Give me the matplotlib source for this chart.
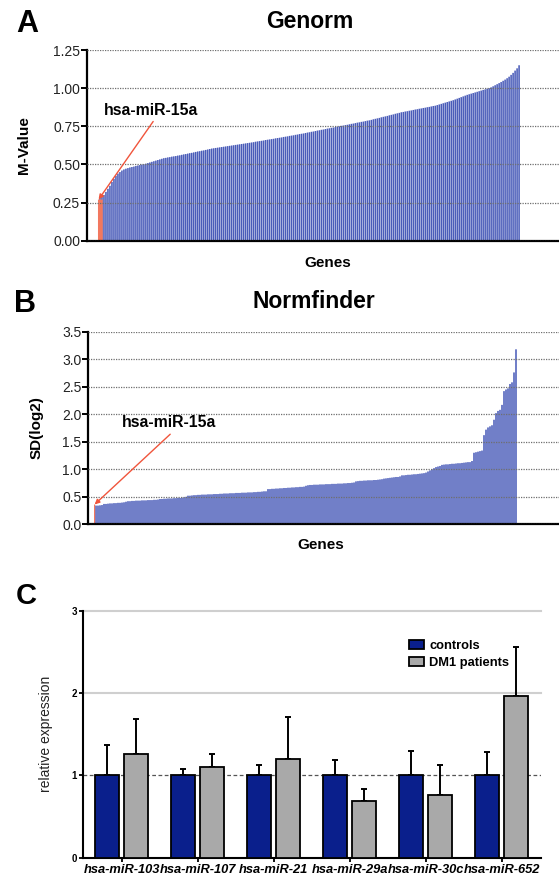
import matplotlib
matplotlib.use("Agg")
import matplotlib.pyplot as plt
import numpy as np

plt.rcParams["font.family"] = ["Liberation Sans", "DejaVu Sans"]

# ---- data -------------------------------------------------------------
highlight_gene = "hsa-miR-15a"

# panel A: geNorm M-values, genes ranked (first = hsa-miR-15a)
genorm_m = [
    0.27, 0.28, 0.29, 0.30, 0.32, 0.34, 0.36, 0.385, 0.405, 0.425,
    0.44, 0.45, 0.46, 0.467, 0.472, 0.476, 0.48, 0.483, 0.486, 0.49,
    0.493, 0.496, 0.499, 0.502, 0.505, 0.509, 0.513, 0.517, 0.521, 0.525,
    0.529, 0.533, 0.537, 0.541, 0.543, 0.546, 0.548, 0.551, 0.553, 0.555,
    0.558, 0.56, 0.563, 0.566, 0.568, 0.571, 0.574, 0.576, 0.579, 0.582,
    0.585, 0.587, 0.59, 0.592, 0.595, 0.598, 0.601, 0.604, 0.606, 0.608,
    0.61, 0.612, 0.614, 0.616, 0.618, 0.62, 0.622, 0.624, 0.626, 0.628,
    0.63, 0.632, 0.634, 0.636, 0.638, 0.64, 0.642, 0.644, 0.646, 0.649,
    0.651, 0.653, 0.655, 0.657, 0.66, 0.662, 0.664, 0.666, 0.668, 0.671,
    0.673, 0.675, 0.677, 0.68, 0.682, 0.684, 0.687, 0.689, 0.691, 0.694,
    0.696, 0.699, 0.701, 0.703, 0.706, 0.709, 0.711, 0.714, 0.716, 0.719,
    0.722, 0.724, 0.727, 0.729, 0.732, 0.735, 0.737, 0.74, 0.742, 0.745,
    0.748, 0.75, 0.753, 0.755, 0.758, 0.76, 0.763, 0.766, 0.768, 0.771,
    0.774, 0.776, 0.779, 0.781, 0.784, 0.787, 0.789, 0.792, 0.796, 0.799,
    0.802, 0.805, 0.809, 0.812, 0.815, 0.818, 0.822, 0.825, 0.828, 0.832,
    0.835, 0.838, 0.842, 0.844, 0.847, 0.849, 0.852, 0.854, 0.857, 0.86,
    0.862, 0.865, 0.867, 0.87, 0.872, 0.875, 0.877, 0.88, 0.883, 0.885,
    0.889, 0.893, 0.897, 0.901, 0.905, 0.909, 0.913, 0.917, 0.921, 0.926,
    0.931, 0.936, 0.941, 0.946, 0.951, 0.956, 0.96, 0.964, 0.968, 0.972,
    0.976, 0.98, 0.984, 0.988, 0.992, 0.996, 1.0, 1.005, 1.012, 1.019,
    1.026, 1.033, 1.04, 1.048, 1.056, 1.065, 1.075, 1.087, 1.1, 1.115,
    1.13, 1.15,
]

# panel B: NormFinder SD(log2), genes ranked (first = hsa-miR-15a)
normfinder_sd = [
    0.36, 0.34, 0.34, 0.345, 0.35, 0.37, 0.37, 0.375, 0.38, 0.38,
    0.385, 0.385, 0.39, 0.39, 0.395, 0.40, 0.41, 0.42, 0.42, 0.425,
    0.425, 0.43, 0.43, 0.43, 0.435, 0.435, 0.435, 0.44, 0.44, 0.44,
    0.445, 0.445, 0.45, 0.46, 0.46, 0.465, 0.465, 0.47, 0.47, 0.47,
    0.475, 0.475, 0.48, 0.48, 0.485, 0.49, 0.50, 0.52, 0.52, 0.525,
    0.53, 0.53, 0.535, 0.535, 0.54, 0.54, 0.54, 0.545, 0.545, 0.545,
    0.55, 0.55, 0.55, 0.555, 0.555, 0.56, 0.56, 0.56, 0.565, 0.565,
    0.565, 0.57, 0.57, 0.57, 0.575, 0.575, 0.575, 0.58, 0.58, 0.58,
    0.585, 0.585, 0.59, 0.59, 0.595, 0.60, 0.60, 0.64, 0.64, 0.645,
    0.645, 0.65, 0.65, 0.655, 0.655, 0.66, 0.66, 0.665, 0.665, 0.67,
    0.67, 0.675, 0.675, 0.68, 0.68, 0.685, 0.70, 0.71, 0.715, 0.715,
    0.72, 0.72, 0.72, 0.725, 0.725, 0.725, 0.73, 0.73, 0.73, 0.735,
    0.735, 0.735, 0.74, 0.74, 0.74, 0.745, 0.745, 0.75, 0.75, 0.755,
    0.76, 0.78, 0.785, 0.79, 0.79, 0.795, 0.795, 0.80, 0.80, 0.80,
    0.805, 0.805, 0.81, 0.815, 0.82, 0.83, 0.835, 0.84, 0.845, 0.85,
    0.855, 0.86, 0.86, 0.87, 0.89, 0.89, 0.895, 0.90, 0.90, 0.905,
    0.91, 0.91, 0.915, 0.92, 0.925, 0.93, 0.94, 0.96, 0.98, 1.0,
    1.02, 1.04, 1.05, 1.06, 1.08, 1.085, 1.09, 1.09, 1.095, 1.10,
    1.10, 1.105, 1.11, 1.11, 1.115, 1.12, 1.125, 1.13, 1.13, 1.15,
    1.30, 1.31, 1.32, 1.33, 1.34, 1.62, 1.72, 1.76, 1.78, 1.80,
    1.90, 2.02, 2.06, 2.08, 2.17, 2.42, 2.45, 2.47, 2.55, 2.58,
    2.76, 3.18,
]

genorm_ticks = [0.00, 0.25, 0.50, 0.75, 1.00, 1.25]
normfinder_ticks = [0.0, 0.5, 1.0, 1.5, 2.0, 2.5, 3.0, 3.5]

# panel C: relative expression
mirnas = ["hsa-miR-103", "hsa-miR-107", "hsa-miR-21",
          "hsa-miR-29a", "hsa-miR-30c", "hsa-miR-652"]
controls_mean = [1.00, 1.00, 1.00, 1.00, 1.00, 1.00]
controls_err = [0.37, 0.08, 0.12, 0.19, 0.30, 0.28]
dm1_mean = [1.26, 1.10, 1.20, 0.69, 0.76, 1.97]
dm1_err = [0.42, 0.16, 0.51, 0.15, 0.36, 0.59]
expr_ticks = [0, 1, 2, 3]

BAR_BLUE = "#4a5cb9"
HIGHLIGHT = "#f2785f"
ARROW_RED = "#f0553c"


def draw_ranking(ax, values, ticks, fmt, ylabel, xleft, xright,
                 hl_width, text_xy, ylab_x, xlab_xy):
    x = np.arange(len(values))
    # snap off so the ~2 px wide bars blend evenly instead of aliasing
    ax.bar(x[1:], values[1:], width=0.78, color=BAR_BLUE,
           edgecolor="none", linewidth=0, snap=False)
    ax.bar(x[0], values[0], width=hl_width, align="edge", color=HIGHLIGHT,
           edgecolor="none", snap=False)
    ax.set_xlim(xleft, len(values) + xright)
    ax.set_ylim(ticks[0], ticks[-1])
    ax.set_yticks(ticks)
    ax.set_yticklabels([fmt.format(t) for t in ticks], fontsize=10,
                       color="#222222")
    ax.set_xticks([])
    ax.yaxis.grid(True, linestyle=(0, (1, 1)), color="#6f6f6f", lw=0.9)
    ax.set_axisbelow(False)
    for s in ("top", "right"):
        ax.spines[s].set_visible(False)
    ax.spines["left"].set_linewidth(1.6)
    ax.spines["bottom"].set_linewidth(1.6)
    ax.tick_params(axis="y", direction="out", length=4, width=1.4, pad=1)
    ax.set_ylabel(ylabel, fontsize=11, fontweight="bold")
    ax.yaxis.set_label_coords(ylab_x, 0.5)
    ax.set_xlabel("Genes", fontsize=11, fontweight="bold")
    ax.xaxis.set_label_coords(*xlab_xy)
    ax.annotate(highlight_gene, xy=(0.3, values[0]), xycoords="data",
                xytext=text_xy, textcoords="axes fraction",
                ha="center", va="center", fontsize=11.4, fontweight="bold",
                arrowprops=dict(arrowstyle="-|>,head_length=0.25,head_width=0.12",
                                color=ARROW_RED, lw=1.0, shrinkA=1, shrinkB=0,
                                relpos=(0.55, 0.0)))


fig = plt.figure(figsize=(5.59, 8.77), dpi=100)
W, H = 559.0, 877.0

# ---- A: Genorm --------------------------------------------------------
axA = fig.add_axes([87 / W, 1 - 240.7 / H, 472 / W, 190.7 / H])
draw_ranking(axA, genorm_m, genorm_ticks, "{:.2f}", "M-Value",
             -5.5, 19.0, 2.4, (0.136, 0.685), -0.119, (0.51, -0.08))
fig.text(310 / W, 1 - 21 / H, "Genorm", ha="center", va="center",
         fontsize=16.5, fontweight="bold")
fig.text(27 / W, 1 - 24 / H, "A", ha="center", va="center",
         fontsize=22, fontweight="bold")

# ---- B: Normfinder ----------------------------------------------------
axB = fig.add_axes([88.3 / W, 1 - 524.3 / H, 470.7 / W, 192.6 / H])
draw_ranking(axB, normfinder_sd, normfinder_ticks, "{:.1f}", "SD(log2)",
             -2.85, 20.5, 0.6, (0.1725, 0.526), -0.096, (0.494, -0.073))
fig.text(314 / W, 1 - 302 / H, "Normfinder", ha="center", va="center",
         fontsize=16.5, fontweight="bold")
fig.text(25 / W, 1 - 304 / H, "B", ha="center", va="center",
         fontsize=22, fontweight="bold")

# ---- C: relative expression -------------------------------------------
axC = fig.add_axes([82.7 / W, 1 - 857.7 / H, 458 / W, 247 / H])
g = np.arange(len(mirnas))
off, bw = 0.19, 0.315
axC.bar(g - off, controls_mean, width=bw, color="#0a1f8c", edgecolor="black",
        linewidth=1.3, label="controls", zorder=3)
axC.bar(g + off, dm1_mean, width=bw, color="#a9a9a9", edgecolor="black",
        linewidth=1.3, label="DM1 patients", zorder=3)
axC.errorbar(g - off, controls_mean, yerr=[np.zeros(len(g)), controls_err],
             fmt="none", ecolor="black", elinewidth=1.4, capsize=2.2,
             capthick=1.4, zorder=2)
axC.errorbar(g + off, dm1_mean, yerr=[np.zeros(len(g)), dm1_err],
             fmt="none", ecolor="black", elinewidth=1.4, capsize=2.2,
             capthick=1.4, zorder=2)
axC.axhline(expr_ticks[1], color="#555555", lw=0.9, ls=(0, (3, 2)), zorder=1)
for t in expr_ticks[2:]:
    axC.axhline(t, color="#cfcfcf", lw=1.5, zorder=1, clip_on=False)
axC.set_xlim(-0.51, len(mirnas) - 0.49)
axC.set_ylim(expr_ticks[0], expr_ticks[-1])
axC.set_yticks(expr_ticks)
axC.set_yticklabels([str(t) for t in expr_ticks], fontsize=7,
                    fontweight="bold")
axC.set_xticks(g)
axC.set_xticklabels(mirnas, fontsize=9.3, fontweight="bold", style="italic")
axC.tick_params(axis="x", direction="out", length=3, width=1.3, pad=1.5)
axC.tick_params(axis="y", direction="out", length=3, width=1.3, pad=1)
for s in ("top", "right"):
    axC.spines[s].set_visible(False)
axC.spines["left"].set_linewidth(1.5)
axC.spines["bottom"].set_linewidth(1.5)
axC.set_ylabel("relative expression", fontsize=10, color="#222222")
axC.yaxis.set_label_coords(-0.064, 0.5)
axC.legend(loc="upper left", bbox_to_anchor=(0.712, 0.88), frameon=False,
           prop={"weight": "bold", "size": 9.3},
           handlelength=1.2, handleheight=0.65, handletextpad=0.4,
           labelspacing=0.35, borderpad=0, borderaxespad=0)
fig.text(26 / W, 1 - 596 / H, "C", ha="center", va="center",
         fontsize=21, fontweight="bold")

fig.savefig("out.png", dpi=100)
